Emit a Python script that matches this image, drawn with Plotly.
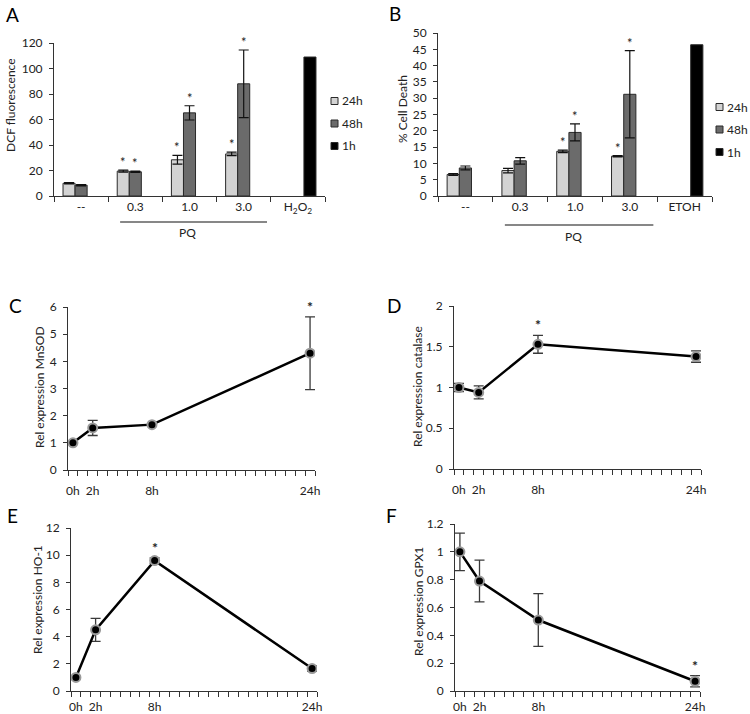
import plotly.graph_objects as go

# ---------------- DATA ----------------
bar_cats = ["--", "0.3", "1.0", "3.0", "H2O2"]
A_ticktext = ["--", "0.3", "1.0", "3.0", "H<sub>2</sub>O<sub>2</sub>"]
B_ticktext = ["--", "0.3", "1.0", "3.0", "ETOH"]
series_names = ["24h", "48h", "1h"]
series_colors = ["#d3d3d3", "#6b6b6b", "#000000"]

A_24 = [10.0, 19.5, 28.4, 33.0, None]
A_24_err = [0.5, 0.8, 3.4, 1.4, None]
A_48 = [8.5, 19.0, 65.2, 88.0, None]
A_48_err = [0.5, 0.5, 5.6, 26.5, None]
A_1h = [None, None, None, None, 109.0]
A_star_24 = [False, True, True, True, False]
A_star_48 = [False, True, True, True, False]

B_24 = [6.6, 7.8, 13.7, 12.2, None]
B_24_err = [0.3, 0.7, 0.4, 0.2, None]
B_48 = [8.6, 10.8, 19.5, 31.2, None]
B_48_err = [0.6, 1.0, 2.6, 13.4, None]
B_1h = [None, None, None, None, 46.4]
B_star_24 = [False, False, True, True, False]
B_star_48 = [False, False, True, True, False]

hours = [0, 2, 8, 24]
hour_labels = ["0h", "2h", "8h", "24h"]

C_val = [1.0, 1.55, 1.67, 4.3]
C_err = [0.05, 0.28, 0.04, 1.34]
C_star = [False, False, False, True]

D_val = [1.0, 0.94, 1.53, 1.38]
D_err = [0.05, 0.08, 0.11, 0.07]
D_star = [False, False, True, False]

E_val = [1.0, 4.5, 9.6, 1.65]
E_err = [0.1, 0.85, 0.2, 0.2]
E_star = [False, False, True, False]

F_val = [1.0, 0.79, 0.51, 0.07]
F_err = [0.135, 0.15, 0.19, 0.04]
F_star = [False, False, False, True]

A_yticks = [0, 20, 40, 60, 80, 100, 120]
B_yticks = [0, 5, 10, 15, 20, 25, 30, 35, 40, 45, 50]
C_yticks = [0, 1, 2, 3, 4, 5, 6]
D_yticks = [0, 0.5, 1, 1.5, 2]
D_yticktext = ["0", "0.5", "1", "1.5", "2"]
E_yticks = [0, 2, 4, 6, 8, 10, 12]
F_yticks = [0, 0.2, 0.4, 0.6, 0.8, 1.0, 1.2]
F_yticktext = ["0", "0.2", "0.4", "0.6", "0.8", "1", "1.2"]

# ---------------- LAYOUT HELPERS ----------------
W, H = 750, 714
FONT = "Lato"
TXT = "#222222"
AX = "#333333"


def dxp(a, b):
    return [a / W, b / W]


def dyp(top, bottom):
    return [1 - bottom / H, 1 - top / H]


def px_x(v):
    return v / W


def px_y(v):
    return 1 - v / H


fig = go.Figure()

# ---------------- BAR PANELS ----------------
def add_bars(xa, ya, s24, e24, s48, e48, s1):
    for vals, errs, name, col in [
        (s24, e24, series_names[0], series_colors[0]),
        (s48, e48, series_names[1], series_colors[1]),
        (s1, None, series_names[2], series_colors[2]),
    ]:
        kw = {}
        if errs is not None:
            kw["error_y"] = dict(type="data", array=errs, visible=True,
                                 color="#111111", thickness=1.2, width=5)
        fig.add_trace(go.Bar(x=bar_cats, y=vals, name=name, xaxis=xa, yaxis=ya,
                             marker=dict(color=col, line=dict(color="#2a2a2a", width=1)),
                             showlegend=False, **kw))


add_bars("x", "y", A_24, A_24_err, A_48, A_48_err, A_1h)
add_bars("x2", "y2", B_24, B_24_err, B_48, B_48_err, B_1h)

# ---------------- LINE PANELS ----------------
def add_line(xa, ya, vals, errs):
    fig.add_trace(go.Scatter(
        x=hours, y=vals, xaxis=xa, yaxis=ya, mode="lines+markers",
        line=dict(color="#000000", width=2.5),
        marker=dict(color="#000000", size=9, line=dict(color="#9a9a9a", width=2)),
        error_y=dict(type="data", array=errs, visible=True, color="#3a3a3a",
                     thickness=1.3, width=5),
        showlegend=False))


add_line("x3", "y3", C_val, C_err)
add_line("x4", "y4", D_val, D_err)
add_line("x5", "y5", E_val, E_err)
add_line("x6", "y6", F_val, F_err)

# ---------------- AXES ----------------
common_y = dict(showline=True, linecolor=AX, linewidth=1, ticks="outside", ticklen=4,
                tickcolor=AX, showgrid=False, zeroline=False, automargin=False,
                tickfont=dict(family=FONT, size=12, color=TXT), ticklabelstandoff=4)

bar_x = dict(type="category", showline=True, linecolor=AX, linewidth=1, ticks="outside",
             ticklen=5, tickcolor=AX, tickson="boundaries", showgrid=False,
             automargin=False,
             tickfont=dict(family=FONT, size=12, color=TXT), tickmode="array",
             tickvals=bar_cats, range=[-0.5, 4.5])

line_x = dict(range=[-0.5, 24.5], showline=True, linecolor=AX, linewidth=1,
              tickmode="array", tickvals=hours, ticktext=hour_labels, ticks="",
              showgrid=False, zeroline=False, automargin=False,
              tickfont=dict(family=FONT, size=12, color=TXT),
              minor=dict(tickmode="linear", tick0=-0.5, dtick=1, ticks="outside",
                         ticklen=5, tickcolor=AX, showgrid=False))

fig.update_layout(
    xaxis=dict(bar_x, domain=dxp(54, 325), anchor="y", ticktext=A_ticktext),
    yaxis=dict(common_y, domain=dyp(43, 196), anchor="x", range=[0, 120],
               tickvals=A_yticks),
    xaxis2=dict(bar_x, domain=dxp(438, 712), anchor="y2", ticktext=B_ticktext),
    yaxis2=dict(common_y, domain=dyp(33, 196), anchor="x2", range=[0, 50],
                tickvals=B_yticks),
    xaxis3=dict(line_x, domain=dxp(68, 315), anchor="y3", ticklabelstandoff=10),
    yaxis3=dict(common_y, domain=dyp(307, 470), anchor="x3", range=[0, 6],
                tickvals=C_yticks),
    xaxis4=dict(line_x, domain=dxp(454, 701), anchor="y4", ticklabelstandoff=10),
    yaxis4=dict(common_y, domain=dyp(306, 469), anchor="x4", range=[0, 2],
                tickvals=D_yticks, ticktext=D_yticktext),
    xaxis5=dict(line_x, domain=dxp(71, 317), anchor="y5", ticklabelstandoff=5),
    yaxis5=dict(common_y, domain=dyp(528, 691), anchor="x5", range=[0, 12],
                tickvals=E_yticks),
    xaxis6=dict(line_x, domain=dxp(455, 700), anchor="y6", ticklabelstandoff=5),
    yaxis6=dict(common_y, domain=dyp(524, 691), anchor="x6", range=[0, 1.2],
                tickvals=F_yticks, ticktext=F_yticktext),
    barmode="group", bargap=0.333, bargroupgap=0,
    width=W, height=H,
    margin=dict(l=0, r=0, t=0, b=0, pad=0, autoexpand=False),
    paper_bgcolor="white", plot_bgcolor="white", showlegend=False,
    font=dict(family=FONT, color=TXT),
)

ann = []
shapes = []

bw = (1 - 0.333) / 3  # width of one bar within a category group


def bar_stars(xref, yref, vals, errs, flags, off):
    for i, (v, e, f) in enumerate(zip(vals, errs, flags)):
        if f:
            ann.append(dict(x=i + off, y=v + e, xref=xref, yref=yref, text="*",
                            showarrow=False, xanchor="center", yanchor="bottom", yshift=-2,
                            font=dict(family=FONT, size=13, color=TXT)))


bar_stars("x", "y", A_24, A_24_err, A_star_24, -bw)
bar_stars("x", "y", A_48, A_48_err, A_star_48, 0)
bar_stars("x2", "y2", B_24, B_24_err, B_star_24, -bw)
bar_stars("x2", "y2", B_48, B_48_err, B_star_48, 0)


def line_stars(xref, yref, vals, errs, flags):
    for h, v, e, f in zip(hours, vals, errs, flags):
        if f:
            ann.append(dict(x=h, y=v + e, xref=xref, yref=yref, text="<b>*</b>",
                            showarrow=False, xanchor="center", yanchor="bottom", yshift=0,
                            font=dict(family=FONT, size=14, color=TXT)))


line_stars("x3", "y3", C_val, C_err, C_star)
line_stars("x4", "y4", D_val, D_err, D_star)
line_stars("x5", "y5", E_val, E_err, E_star)
line_stars("x6", "y6", F_val, F_err, F_star)

# panel letters
for letter, x, y in [("A", 12, 14), ("B", 395, 13), ("C", 15, 305),
                     ("D", 394, 305), ("E", 12, 515), ("F", 392, 515)]:
    ann.append(dict(x=px_x(x), y=px_y(y), xref="paper", yref="paper", text=letter,
                    showarrow=False, xanchor="center", yanchor="middle",
                    font=dict(family=FONT, size=19, color="#000")))

# y-axis titles
for txt, x, y in [("DCF fluorescence", 10, 105), ("% Cell Death", 402, 109),
                  ("Rel expression MnSOD", 39, 387), ("Rel expression catalase", 417, 387),
                  ("Rel expression HO-1", 37, 600), ("Rel expression GPX1", 418, 602)]:
    ann.append(dict(x=px_x(x), y=px_y(y), xref="paper", yref="paper", text=txt,
                    textangle=-90, showarrow=False, xanchor="center", yanchor="middle",
                    font=dict(family=FONT, size=12, color=TXT)))

# PQ bracket lines
for xref, ly, ty in [("x", 222, 233), ("x2", 225, 237)]:
    shapes.append(dict(type="line", xref=xref, yref="paper", x0=0.72, x1=3.43,
                       y0=px_y(ly), y1=px_y(ly), line=dict(color="#111", width=1.2)))
    ann.append(dict(x=1.97, y=px_y(ty), xref=xref, yref="paper", text="PQ",
                    showarrow=False, xanchor="center", yanchor="middle",
                    font=dict(family=FONT, size=12, color=TXT)))

# legends (small square swatches)
for lx, ly0 in [(331, 101), (716, 107)]:
    for k, (name, col) in enumerate(zip(series_names, series_colors)):
        cy = ly0 + k * 22.5
        shapes.append(dict(type="rect", xref="paper", yref="paper",
                           x0=px_x(lx), x1=px_x(lx + 7), y0=px_y(cy + 3.5), y1=px_y(cy - 3.5),
                           fillcolor=col, line=dict(color="#2a2a2a", width=1)))
        ann.append(dict(x=px_x(lx + 9), y=px_y(cy), xref="paper", yref="paper",
                        text=name, showarrow=False, xanchor="left", yanchor="middle",
                        font=dict(family=FONT, size=12, color=TXT)))

fig.update_layout(annotations=ann, shapes=shapes)

fig.write_html("out.html",
               config={"displayModeBar": False},
               post_script="document.body.style.margin='0';"
                           "document.body.style.overflow='hidden';")
